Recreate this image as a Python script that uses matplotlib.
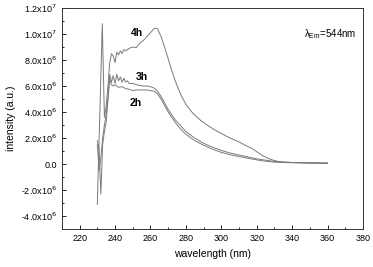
import numpy as np
import matplotlib
matplotlib.use("Agg")
import matplotlib.pyplot as plt
from matplotlib.ticker import MultipleLocator, FixedLocator

plt.rcParams['font.family'] = ['Liberation Sans', 'DejaVu Sans']

# wavelength (nm) and intensity (x1e6) for each annealing time
wl_4h = [230, 232.8, 234, 235, 236, 237, 238, 239, 240, 241, 242, 243, 244, 245, 246, 248, 250,
         252, 254, 256, 258, 260, 262, 263, 264, 266, 268, 270, 272, 274, 276, 278, 280, 284,
         288, 292, 296, 300, 305, 310, 315, 318, 320, 324, 328, 332, 336, 340, 345, 350, 355, 360]
int_4h = [-3.1, 10.8, 3.6, 4.5, 6.0, 7.8, 8.5, 8.3, 7.8, 8.6, 8.4, 8.7, 8.5, 8.8, 8.7, 8.9, 9.0,
          8.95, 9.3, 9.5, 9.8, 10.1, 10.4, 10.45, 10.4, 9.8, 9.0, 8.1, 7.2, 6.4, 5.7, 5.1, 4.6, 3.9,
          3.4, 3.0, 2.65, 2.35, 2.0, 1.7, 1.35, 1.15, 0.95, 0.6, 0.35, 0.2, 0.15, 0.12, 0.1, 0.08, 0.06, 0.05]

wl_3h = [230, 231, 232, 233, 234, 235, 236, 237, 238, 239, 240, 241, 242, 243, 244, 245, 246, 247,
         248, 250, 252, 254, 256, 258, 260, 262, 264, 266, 268, 270, 272, 274, 276, 278, 280, 285,
         290, 295, 300, 305, 310, 315, 320, 325, 330, 335, 340, 350, 360]
int_3h = [1.8, 1.2, -2.3, 1.5, 2.5, 3.2, 5.0, 6.9, 6.3, 6.8, 6.2, 6.9, 6.4, 6.7, 6.3, 6.6, 6.3, 6.4,
          6.2, 6.2, 6.1, 6.05, 6.0, 6.0, 5.95, 5.85, 5.6, 5.2, 4.7, 4.2, 3.8, 3.4, 3.1, 2.8, 2.5, 2.0,
          1.6, 1.3, 1.05, 0.85, 0.7, 0.55, 0.4, 0.3, 0.2, 0.15, 0.12, 0.1, 0.08]

wl_2h = [230, 231, 232, 233, 234, 235, 236, 237, 238, 239, 240, 242, 244, 246, 248, 250, 252, 254,
         256, 258, 260, 262, 264, 266, 268, 270, 272, 274, 276, 278, 280, 285, 290, 295, 300, 305,
         310, 315, 320, 325, 330, 335, 340, 350, 360]
int_2h = [1.5, -0.5, 0.5, 2.0, 3.0, 3.8, 5.0, 6.5, 6.1, 6.0, 6.1, 5.9, 5.95, 5.8, 5.75, 5.65, 5.7, 5.7,
          5.7, 5.7, 5.65, 5.6, 5.4, 5.0, 4.5, 4.0, 3.6, 3.2, 2.85, 2.55, 2.3, 1.8, 1.45, 1.15, 0.9, 0.72,
          0.58, 0.45, 0.32, 0.22, 0.15, 0.12, 0.1, 0.08, 0.07]

ytick_vals = [-4e6, -2e6, 0, 2e6, 4e6, 6e6, 8e6, 1e7, 1.2e7]
ytick_labels = ['-4.0x10$^{6}$', '-2.0x10$^{6}$', '0.0', '2.0x10$^{6}$', '4.0x10$^{6}$',
                '6.0x10$^{6}$', '8.0x10$^{6}$', '1.0x10$^{7}$', '1.2x10$^{7}$']

fig = plt.figure(figsize=(3.73, 2.67), dpi=100)
ax = fig.add_axes([0.166, 0.142, 0.807, 0.828])

col = '#7a7a7a'
for wl, it in [(wl_4h, int_4h), (wl_3h, int_3h), (wl_2h, int_2h)]:
    ax.plot(wl, np.array(it) * 1e6, color=col, lw=0.7)

ax.set_xlim(210, 380)
ax.set_ylim(-5e6, 1.2e7)
ax.xaxis.set_major_locator(MultipleLocator(20))
ax.xaxis.set_minor_locator(MultipleLocator(10))
ax.yaxis.set_major_locator(FixedLocator(ytick_vals))
ax.yaxis.set_minor_locator(MultipleLocator(1e6))
ax.set_yticklabels(ytick_labels)
ax.tick_params(which='both', direction='in', labelsize=6.5, width=0.6)
ax.tick_params(which='major', length=3)
ax.tick_params(which='minor', length=1.5)
for s in ax.spines.values():
    s.set_linewidth(0.7)
    s.set_color('#333333')

ax.set_xlabel('wavelength (nm)', fontsize=7.5)
ax.set_ylabel('intensity (a.u.)', fontsize=7.5)

ax.text(252.3, 1.01e7, '4h', fontsize=7.5, fontweight='bold', ha='center', va='center')
ax.text(255.1, 6.7e6, '3h', fontsize=7.5, fontweight='bold', ha='center', va='center')
ax.text(251.7, 4.7e6, '2h', fontsize=7.5, fontweight='bold', ha='center', va='center')
ax.text(361.5, 1.0e7, r'$\mathregular{\lambda_{Em}}$=544nm', fontsize=7, ha='center', va='center')

fig.savefig('out.png', dpi=100)
